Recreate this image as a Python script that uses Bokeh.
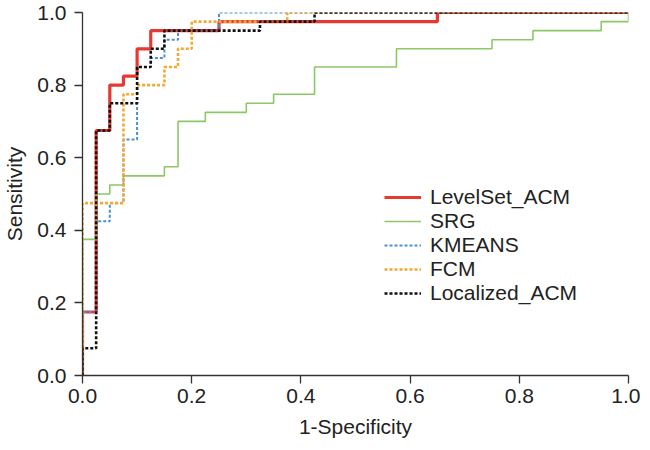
from bokeh.plotting import figure
from bokeh.models import Range1d, FixedTicker, PrintfTickFormatter, Legend, LegendItem
from bokeh.embed import file_html
from bokeh.resources import INLINE

# ROC corner points (1-Specificity, Sensitivity)
levelset_fpr = [0, 0, 0.025, 0.025, 0.05, 0.05, 0.075, 0.075, 0.1, 0.1, 0.125, 0.125, 0.25, 0.25, 0.65, 0.65, 1.0]
levelset_tpr = [0, 0.175, 0.175, 0.675, 0.675, 0.8, 0.8, 0.825, 0.825, 0.9, 0.9, 0.95, 0.95, 0.975, 0.975, 1.0, 1.0]

srg_fpr = [0, 0, 0.025, 0.025, 0.05, 0.05, 0.075, 0.075, 0.15, 0.15, 0.175, 0.175, 0.225, 0.225, 0.3, 0.3,
           0.35, 0.35, 0.425, 0.425, 0.575, 0.575, 0.75, 0.75, 0.825, 0.825, 0.95, 0.95, 1.0, 1.0]
srg_tpr = [0, 0.375, 0.375, 0.5, 0.5, 0.525, 0.525, 0.55, 0.55, 0.575, 0.575, 0.7, 0.7, 0.725, 0.725, 0.75,
           0.75, 0.775, 0.775, 0.85, 0.85, 0.9, 0.9, 0.925, 0.925, 0.95, 0.95, 0.975, 0.975, 1.0]

kmeans_fpr = [0, 0, 0.025, 0.025, 0.05, 0.05, 0.075, 0.075, 0.1, 0.1, 0.125, 0.125, 0.15, 0.15, 0.175, 0.175, 0.25, 0.25, 1.0]
kmeans_tpr = [0, 0.175, 0.175, 0.425, 0.425, 0.475, 0.475, 0.65, 0.65, 0.85, 0.85, 0.875, 0.875, 0.925, 0.925, 0.95, 0.95, 1.0, 1.0]

fcm_fpr = [0, 0, 0.075, 0.075, 0.1, 0.1, 0.15, 0.15, 0.175, 0.175, 0.2, 0.2, 0.375, 0.375, 1.0]
fcm_tpr = [0, 0.475, 0.475, 0.775, 0.775, 0.8, 0.8, 0.85, 0.85, 0.9, 0.9, 0.975, 0.975, 1.0, 1.0]

local_fpr = [0, 0, 0.025, 0.025, 0.05, 0.05, 0.1, 0.1, 0.125, 0.125, 0.15, 0.15, 0.325, 0.325, 0.425, 0.425, 1.0]
local_tpr = [0, 0.075, 0.075, 0.675, 0.675, 0.75, 0.75, 0.85, 0.85, 0.9, 0.9, 0.95, 0.95, 0.975, 0.975, 1.0, 1.0]

series_names = ["LevelSet_ACM", "SRG", "KMEANS", "FCM", "Localized_ACM"]
ticks = [0.0, 0.2, 0.4, 0.6, 0.8, 1.0]

FONT = "Liberation Sans"
FS = "21px"

p = figure(width=640, height=440, output_backend="svg", toolbar_location=None,
           x_range=Range1d(0, 1), y_range=Range1d(0, 1),
           min_border_left=77, min_border_right=12, min_border_top=12, min_border_bottom=60)
p.outline_line_color = None
p.grid.visible = False
p.background_fill_color = "white"

for ax in (p.xaxis[0], p.yaxis[0]):
    ax.ticker = FixedTicker(ticks=ticks)
    ax.formatter = PrintfTickFormatter(format="%.1f")
    ax.major_tick_in = 0
    ax.major_tick_out = 8
    ax.minor_tick_line_color = None
    ax.axis_line_color = "#333333"
    ax.axis_line_width = 1.3
    ax.major_tick_line_color = "#333333"
    ax.major_tick_line_width = 1.3
    ax.major_label_text_font = FONT
    ax.major_label_text_font_size = FS
    ax.major_label_text_color = "#222222"
    ax.axis_label_text_font = FONT
    ax.axis_label_text_font_size = FS
    ax.axis_label_text_font_style = "normal"
    ax.axis_label_text_color = "#222222"

p.yaxis.major_label_standoff = 8
p.xaxis.major_label_standoff = 5
p.xaxis.axis_label = "1-Specificity"
p.yaxis.axis_label = "Sensitivity"
p.xaxis.axis_label_standoff = 9
p.yaxis.axis_label_standoff = 8

r1 = p.line(levelset_fpr, levelset_tpr, line_color="#e53a33", line_width=3.2)
r2 = p.line(srg_fpr, srg_tpr, line_color="#8cc866", line_width=1.6)
r3 = p.line(kmeans_fpr, kmeans_tpr, line_color="#4a8fd6", line_width=2, line_dash="3 2")
r4 = p.line(fcm_fpr, fcm_tpr, line_color="#f5a72e", line_width=2.6, line_dash="3 2")
r5 = p.line(local_fpr, local_tpr, line_color="#111111", line_width=2.6, line_dash="3 2")

legend = Legend(items=[LegendItem(label=n, renderers=[r]) for n, r in
                       zip(series_names, [r1, r2, r3, r4, r5])],
                location=(302, 70), padding=0, margin=0, spacing=0,
                glyph_width=37, glyph_height=20, label_standoff=9,
                label_text_font=FONT, label_text_font_size=FS, label_text_color="#222222",
                border_line_color=None, background_fill_alpha=0)
p.add_layout(legend)

open("out.html", "w").write(file_html(p, INLINE))
